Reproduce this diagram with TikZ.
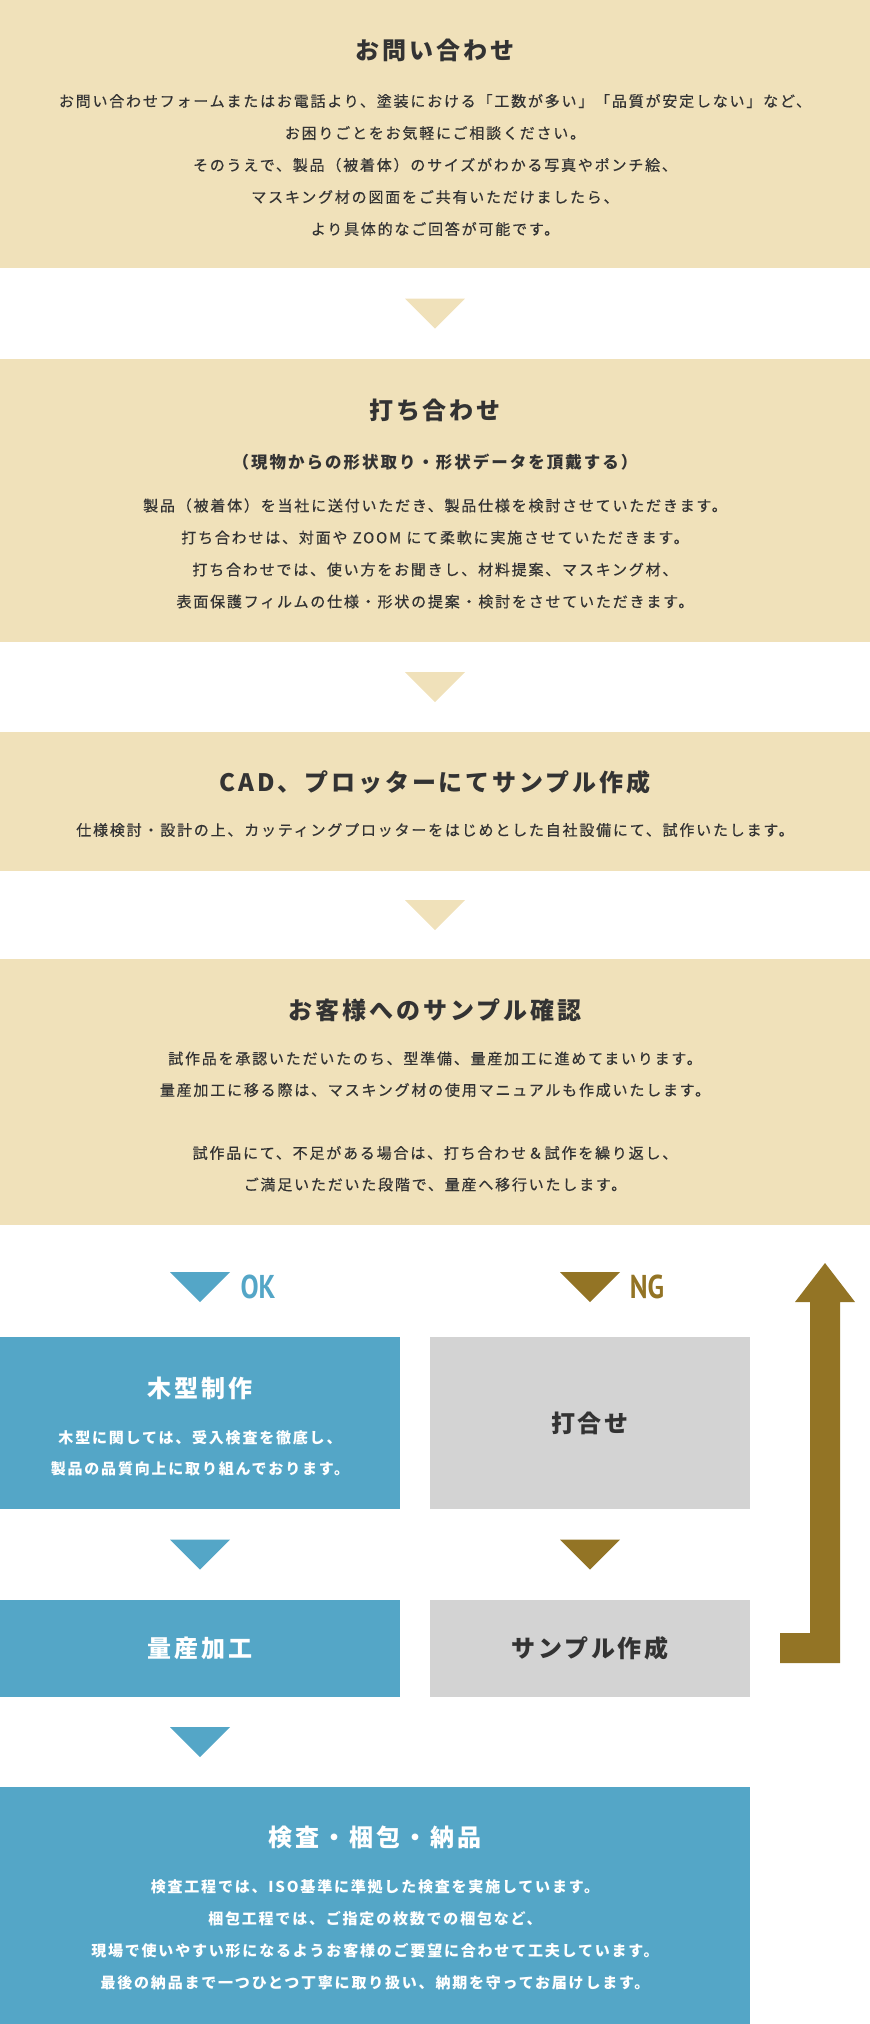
\documentclass[tikz,border=0pt]{standalone}
\usepackage{fontspec}
\setmainfont{Noto Sans CJK JP}[LetterSpace=12]
\newfontfamily\bodyfont{Noto Sans CJK JP}[LetterSpace=12, FakeBold=0.5]
\newfontfamily\flagfont{PT Sans}
\usetikzlibrary{calc}
\definecolor{stepcolor}{RGB}{240,225,186}
\definecolor{okcolor}{RGB}{84,166,199}
\definecolor{ngcolor}{RGB}{147,116,37}
\definecolor{holdcolor}{RGB}{211,211,211}
\definecolor{inkcolor}{RGB}{51,51,51}

\begin{document}
\begin{tikzpicture}[
    x=1pt, y=-1pt,
    part/.style={fill=#1, anchor=north west, inner sep=0pt, outer sep=0pt},
    title/.style={font=\fontsize{24}{30}\selectfont\bfseries, text=inkcolor},
    body/.style={font=\bodyfont\fontsize{15}{32}\selectfont, align=center, text=inkcolor},
    flag/.style={font=\flagfont\fontsize{33}{33}\selectfont\bfseries, text=#1},
    tri/.style={fill=#1}
]
    \useasboundingbox (0,0) rectangle (870,2024);

    % common steps
    \node[part=stepcolor, minimum width=870pt, minimum height=268pt] (inquiry) at (0,0) {};
    \node[part=stepcolor, minimum width=870pt, minimum height=283pt] (meeting) at (0,359) {};
    \node[part=stepcolor, minimum width=870pt, minimum height=139pt] (cad) at (0,732) {};
    \node[part=stepcolor, minimum width=870pt, minimum height=266pt] (confirm) at (0,959) {};

    \node[title] (inquiry-t) at (435,50) {お問い合わせ};
    \node[body] (inquiry-b) at (435,165) {お問い合わせフォームまたはお電話より、塗装における「工数が多い」「品質が安定しない」など、\\お困りごとをお気軽にご相談ください。\\そのうえで、製品（被着体）のサイズがわかる写真やポンチ絵、\\マスキング材の図面をご共有いただけましたら、\\より具体的なご回答が可能です。};

    \node[title] (meeting-t) at (435,410) {打ち合わせ};
    \node[body, font=\fontsize{16.5}{20}\selectfont\bfseries] (meeting-s) at (435,462) {（現物からの形状取り・形状データを頂戴する）};
    \node[body] (meeting-b) at (435,553.5) {製品（被着体）を当社に送付いただき、製品仕様を検討させていただきます。\\打ち合わせは、対面や ZOOM にて柔軟に実施させていただきます。\\打ち合わせでは、使い方をお聞きし、材料提案、マスキング材、\\表面保護フィルムの仕様・形状の提案・検討をさせていただきます。};

    \node[title] (cad-t) at (435,782) {CAD、プロッターにてサンプル作成};
    \node[body] (cad-b) at (435,830) {仕様検討・設計の上、カッティングプロッターをはじめとした自社設備にて、試作いたします。};

    \node[title] (confirm-t) at (435,1010) {お客様へのサンプル確認};
    \node[body, font=\bodyfont\fontsize{15}{31.5}\selectfont] (confirm-b) at (435,1121.5) {試作品を承認いただいたのち、型準備、量産加工に進めてまいります。\\量産加工に移る際は、マスキング材の使用マニュアルも作成いたします。\\[31.5pt]試作品にて、不足がある場合は、打ち合わせ＆試作を繰り返し、\\ご満足いただいた段階で、量産へ移行いたします。};

    \fill[tri=stepcolor] ($(inquiry.south)!0.5!(meeting.north)$) +(-30,-15) -- +(30,-15) -- +(0,15) -- cycle;
    \fill[tri=stepcolor] ($(meeting.south)!0.5!(cad.north)$) +(-30,-15) -- +(30,-15) -- +(0,15) -- cycle;
    \fill[tri=stepcolor] ($(cad.south)!0.5!(confirm.north)$) +(-30,-15) -- +(30,-15) -- +(0,15) -- cycle;

    % OK branch
    \node[part=okcolor, minimum width=400pt, minimum height=172pt] (mold) at (0,1337) {};
    \node[part=okcolor, minimum width=400pt, minimum height=97pt, title, text=white] (mass) at (0,1600) {量産加工};
    \node[part=okcolor, minimum width=750pt, minimum height=237pt] (ship) at (0,1787) {};

    \node[title, text=white] (mold-t) at (200,1388) {木型制作};
    \node[body, font=\fontsize{15}{31}\selectfont\bfseries, text=white] (mold-b) at (200,1453.5) {木型に関しては、受入検査を徹底し、\\製品の品質向上に取り組んでおります。};

    \node[title, text=white] (ship-t) at (375,1837) {検査・梱包・納品};
    \node[body, font=\fontsize{15}{32}\selectfont\bfseries, text=white] (ship-b) at (375,1935) {検査工程では、ISO基準に準拠した検査を実施しています。\\梱包工程では、ご指定の枚数での梱包など、\\現場で使いやすい形になるようお客様のご要望に合わせて工夫しています。\\最後の納品まで一つひとつ丁寧に取り扱い、納期を守ってお届けします。};

    \node[flag=okcolor] (ok) at (258,1287) {\scalebox{0.82}[1]{OK}};
    \fill[tri=okcolor] ($(mold.north)+(0,-50)$) +(-30,-15) -- +(30,-15) -- +(0,15) -- cycle;
    \fill[tri=okcolor] ($(mold.south)!0.5!(mass.north)$) +(-30,-15) -- +(30,-15) -- +(0,15) -- cycle;
    \fill[tri=okcolor] ($(mass.south)!0.5!(mass.south |- ship.north)$) +(-30,-15) -- +(30,-15) -- +(0,15) -- cycle;

    % NG branch
    \node[part=holdcolor, minimum width=320pt, minimum height=172pt, title] (retalk) at (430,1337) {打合せ};
    \node[part=holdcolor, minimum width=320pt, minimum height=97pt, title] (resample) at (430,1600) {サンプル作成};

    \node[flag=ngcolor] (ng) at (647,1287) {\scalebox{0.82}[1]{NG}};
    \fill[tri=ngcolor] ($(retalk.north)+(0,-50)$) +(-30,-15) -- +(30,-15) -- +(0,15) -- cycle;
    \fill[tri=ngcolor] ($(retalk.south)!0.5!(resample.north)$) +(-30,-15) -- +(30,-15) -- +(0,15) -- cycle;

    % back to confirmation
    \fill[ngcolor] (780,1663) -- (840,1663) -- (840,1302) -- (855,1302) -- (825,1263)
        -- (795,1302) -- (810,1302) -- (810,1633) -- (780,1633) -- cycle;
\end{tikzpicture}
\end{document}
